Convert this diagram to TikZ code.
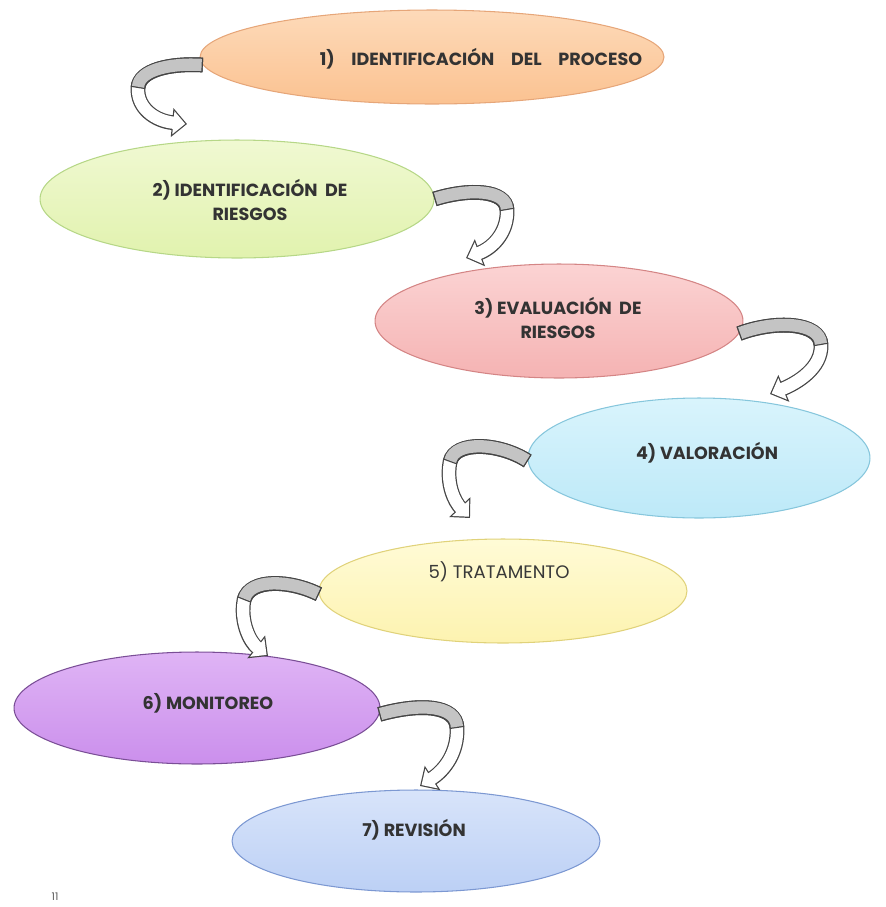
\documentclass[tikz,border=0pt]{standalone}
\usepackage{fontspec}
\setmainfont{Poppins}
\usetikzlibrary{shapes.geometric}
\usetikzlibrary{arrows.meta}

\definecolor{bordeflecha}{HTML}{454545}
\definecolor{grisflecha}{HTML}{C4C4C4}
\definecolor{textoetapa}{HTML}{333333}
\definecolor{naranjaB}{HTML}{E6A679}\definecolor{naranjaA}{HTML}{FDDAB9}\definecolor{naranjaC}{HTML}{FBC291}
\definecolor{verdeB}{HTML}{B6D787}\definecolor{verdeA}{HTML}{F0F9D2}\definecolor{verdeC}{HTML}{E1F2AE}
\definecolor{rosaB}{HTML}{D48585}\definecolor{rosaA}{HTML}{FBD3D3}\definecolor{rosaC}{HTML}{F5B3B3}
\definecolor{celesteB}{HTML}{86C6DC}\definecolor{celesteA}{HTML}{D9F4FC}\definecolor{celesteC}{HTML}{BDE9F8}
\definecolor{amarilloB}{HTML}{E0D27A}\definecolor{amarilloA}{HTML}{FFFBD6}\definecolor{amarilloC}{HTML}{FDF3B0}
\definecolor{moradoB}{HTML}{7A4E96}\definecolor{moradoA}{HTML}{DFB4F5}\definecolor{moradoC}{HTML}{CB8FEC}
\definecolor{azulB}{HTML}{7C98D2}\definecolor{azulA}{HTML}{D8E4FA}\definecolor{azulC}{HTML}{BCD0F5}

% flecha curva: inicio, control, control, vuelta, control, control, punta
\newcommand{\giro}[7]{%
  \draw [line width=8.4pt, bordeflecha, -{Triangle[length=8.5pt,width=16pt]}]
    (#1) .. controls #2 and #3 .. (#4) .. controls #5 and #6 .. (#7);
  \draw [line width=7pt, white, shorten <=0.7pt, shorten >=1pt, -{Triangle[length=6.8pt,width=12.8pt]}]
    (#1) .. controls #2 and #3 .. (#4) .. controls #5 and #6 .. (#7);
  \draw [line width=8.4pt, bordeflecha] (#1) .. controls #2 and #3 .. (#4);
  \draw [line width=7pt, grisflecha, shorten <=0.7pt, shorten >=0.7pt] (#1) .. controls #2 and #3 .. (#4);
}

\begin{document}
\begin{tikzpicture}[x=0.02cm, y=-0.02cm,
  etapa/.style={ellipse, inner sep=0pt, line width=0.6pt, draw=#1B,
    top color=#1A, bottom color=#1C},
  texto/.style={font=\fontsize{10}{14}\selectfont\bfseries, text=textoetapa, align=center}]
\useasboundingbox (0,0) rectangle (886,907);

% elipses
\node [etapa=naranja, minimum width=9.28cm, minimum height=1.88cm] (p1) at (432,57) {};
\node [etapa=verde, minimum width=7.88cm, minimum height=2.36cm] (p2) at (237,199) {};
\node [etapa=rosa, minimum width=7.36cm, minimum height=2.28cm] (p3) at (559,321) {};
\node [etapa=celeste, minimum width=6.84cm, minimum height=2.40cm] (p4) at (699,458) {};
\node [etapa=amarillo, minimum width=7.36cm, minimum height=2.08cm] (p5) at (503,591) {};
\node [etapa=morado, minimum width=7.32cm, minimum height=2.24cm] (p6) at (197,708) {};
\node [etapa=azul, minimum width=7.36cm, minimum height=2.04cm] (p7) at (416,841) {};

% textos
\node [texto] (t1) at (481,59) {1)\hspace{0.95em}IDENTIFICACIÓN\hspace{0.95em}DEL\hspace{0.95em}PROCESO};
\node [texto] (t2) at (250,200) {2) IDENTIFICACIÓN~~DE\\RIESGOS};
\node [texto] (t3) at (558,318) {3) EVALUACIÓN~~DE\\RIESGOS};
\node [texto] (t4) at (707,453) {4) VALORACIÓN};
\node [texto, font=\fontsize{10.3}{14}\selectfont, text=black!78] (t5) at (499,572) {5) TRATAMENTO};
\node [texto] (t6) at (208,703) {6) MONITOREO};
\node [texto] (t7) at (414,830) {7) REVISIÓN};
\node [font=\fontsize{6}{7}\selectfont, text=black!65] (pag) at (55,897) {11};

% vueltas y puntas
\coordinate (v1) at (138,88);  \coordinate (f1) at (187,124);
\coordinate (v2) at (507,210); \coordinate (f2) at (466,258);
\coordinate (v3) at (821,345); \coordinate (f3) at (770,394);
\coordinate (v4) at (450,462); \coordinate (f4) at (470,518);
\coordinate (v5) at (244,600); \coordinate (f5) at (268,656);
\coordinate (v6) at (457,728); \coordinate (f6) at (420,786);

% flechas
\giro{p1.182}{(170,63)}{(139,70)}{v1}{(137,108)}{(155,121)}{f1}
\giro{p2.east}{(470,188)}{(506,190)}{v2}{(508,230)}{(495,247)}{f2}
\giro{p3.356}{(775,320)}{(820,322)}{v3}{(822,368)}{(797,383)}{f3}
\giro{p4.181}{(500,443)}{(455,440)}{v4}{(446,485)}{(455,502)}{f4}
\giro{p5.181}{(290,580)}{(250,578)}{v5}{(240,622)}{(250,642)}{f5}
\giro{p6.358}{(420,703)}{(456,705)}{v6}{(458,752)}{(445,770)}{f6}
\end{tikzpicture}
\end{document}
